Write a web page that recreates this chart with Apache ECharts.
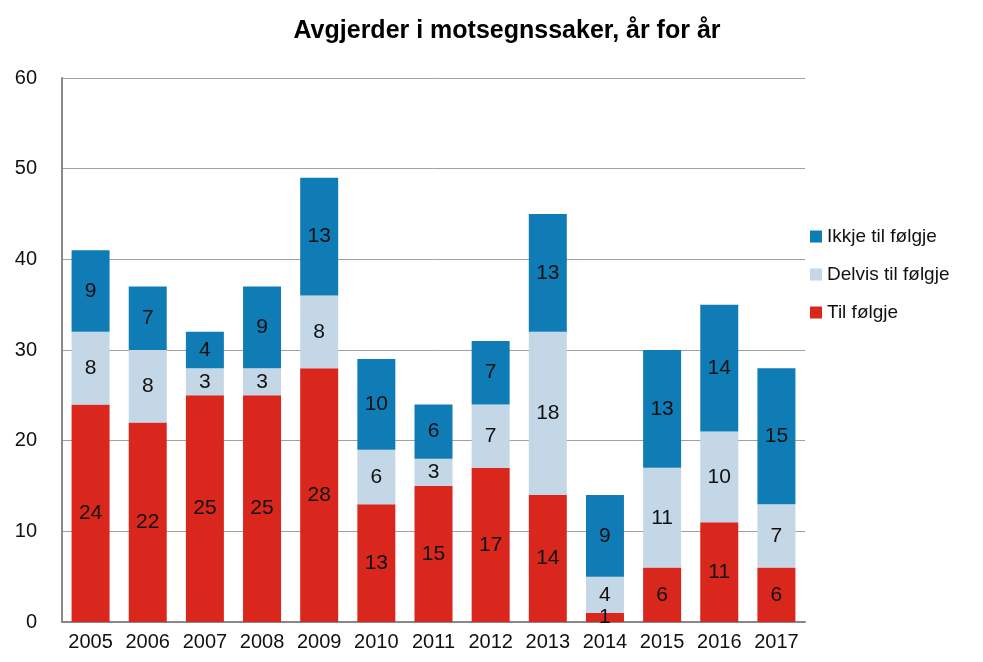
<!DOCTYPE html>
<html><head><meta charset="utf-8">
<script src="https://cdn.jsdelivr.net/npm/echarts@6/dist/echarts.min.js"></script>
<style>html,body{margin:0;padding:0;background:#fff}#c{width:983px;height:662px}</style>
</head><body><div id="c"></div>
<script>
const years = ['2005','2006','2007','2008','2009','2010','2011','2012','2013','2014','2015','2016','2017'];
const tilFolgje = [24,22,25,25,28,13,15,17,14,1,6,11,6];
const delvis = [8,8,3,3,8,6,3,7,18,4,11,10,7];
const ikkje = [9,7,4,9,13,10,6,7,13,9,13,14,15];
const font = 'Liberation Sans, Arial, sans-serif';
const lbl = {show:true, position:'inside', color:'#111', fontSize:21, fontFamily:font};
const chart = echarts.init(document.getElementById('c'));
chart.setOption({
  animation:false,
  title:{text:'Avgjerder i motsegnssaker, år for år', left:502, top:14, textAlign:'center',
    textStyle:{fontSize:25, fontWeight:'bold', color:'#000', fontFamily:font}},
  legend:{orient:'vertical', left:805, top:222, itemWidth:12, itemHeight:12, itemGap:19, icon:'rect',
    data:['Ikkje til følgje','Delvis til følgje','Til følgje'],
    textStyle:{fontSize:19, color:'#111', fontFamily:font}},
  grid:{left:62, right:178, top:78, bottom:40, containLabel:false},
  xAxis:{type:'category', data:years,
    axisLine:{lineStyle:{color:'#888', width:2}}, axisTick:{show:false},
    axisLabel:{fontSize:20, color:'#111', fontFamily:font, margin:10, interval:0}},
  yAxis:{type:'value', min:0, max:60, interval:10,
    axisLine:{show:true, lineStyle:{color:'#888', width:2}},
    splitLine:{lineStyle:{color:'#a0a0a0', width:1}},
    axisLabel:{fontSize:20, color:'#111', fontFamily:font, margin:25}},
  series:[
    {name:'Til følgje', type:'bar', stack:'a', data:tilFolgje, barWidth:38,
      itemStyle:{color:'#d9271d'}, label:lbl},
    {name:'Delvis til følgje', type:'bar', stack:'a', data:delvis,
      itemStyle:{color:'#c4d7e6'}, label:lbl},
    {name:'Ikkje til følgje', type:'bar', stack:'a', data:ikkje,
      itemStyle:{color:'#0f7cb6'}, label:lbl}
  ]
});
</script></body></html>
